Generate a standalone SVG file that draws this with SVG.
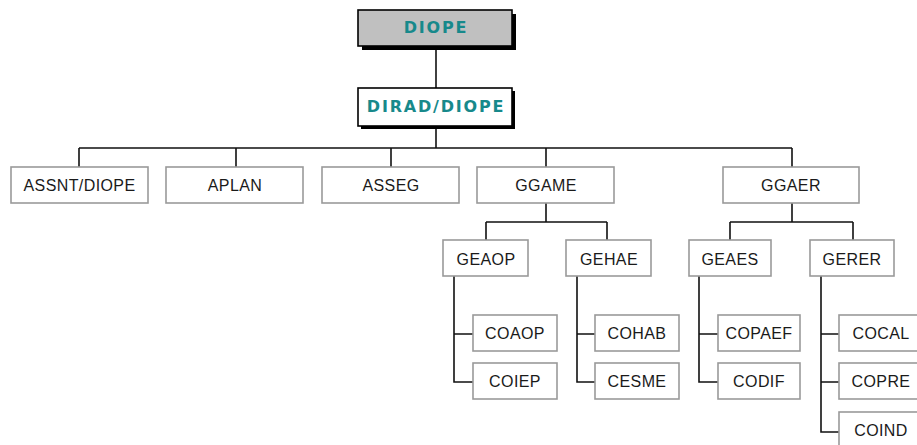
<svg xmlns="http://www.w3.org/2000/svg" width="917" height="445" viewBox="0 0 917 445">
<style>
.top{font-family:"DejaVu Sans",Verdana,sans-serif;font-weight:bold;font-size:16px;letter-spacing:1.8px;fill:#17898b;text-anchor:middle}
.lbl{font-family:"Liberation Sans",Arial,sans-serif;font-size:16px;letter-spacing:0.4px;fill:#1a1a1a;text-anchor:middle}
.box{fill:#fff;stroke:#9a9a9a;stroke-width:1.6}
.conn{fill:none;stroke:#111;stroke-width:1.6}
</style>
<rect width="917" height="445" fill="#fff"/>
<g id="connectors" class="conn">
<path d="M436 46V88"/>
<path d="M436 127V148M79 148H792M79 148V167M236 148V167M391 148V167M546 148V167M792 148V167"/>
<path d="M546 203V222M486 222H607M486 222V240M607 222V240"/>
<path d="M792 203V222M730 222H853M730 222V240M853 222V240"/>
<path d="M454 276V382H473M454 334H473"/>
<path d="M577 276V382H595M577 334H595"/>
<path d="M699 276V382H718M699 334H718"/>
<path d="M821 276V432H839M821 334H839M821 382H839"/>
</g>
<g id="n-diope">
<rect x="362" y="14" width="154" height="36" fill="#000"/>
<rect x="358" y="10" width="154" height="36" fill="#c0c0c0" stroke="#000" stroke-width="1.6"/>
<text class="top" x="436" y="33">DIOPE</text>
</g>
<g id="n-dirad">
<rect x="361" y="91" width="154" height="38" fill="#000"/>
<rect x="358" y="88" width="154" height="38" fill="#fff" stroke="#000" stroke-width="1.6"/>
<text class="top" x="436" y="112">DIRAD/DIOPE</text>
</g>
<g id="n-assnt"><rect class="box" x="11" y="167" width="137" height="36"/><text class="lbl" x="79.5" y="191">ASSNT/DIOPE</text></g>
<g id="n-aplan"><rect class="box" x="166" y="167" width="137" height="36"/><text class="lbl" x="235" y="191">APLAN</text></g>
<g id="n-asseg"><rect class="box" x="322" y="167" width="137" height="36"/><text class="lbl" x="391" y="191">ASSEG</text></g>
<g id="n-ggame"><rect class="box" x="477" y="167" width="137" height="36"/><text class="lbl" x="546" y="191">GGAME</text></g>
<g id="n-ggaer"><rect class="box" x="723" y="167" width="136" height="36"/><text class="lbl" x="791" y="191">GGAER</text></g>
<g id="n-geaop"><rect class="box" x="443" y="240" width="85" height="36"/><text class="lbl" x="486" y="265">GEAOP</text></g>
<g id="n-gehae"><rect class="box" x="566" y="240" width="85" height="36"/><text class="lbl" x="609" y="265">GEHAE</text></g>
<g id="n-geaes"><rect class="box" x="689" y="240" width="82" height="36"/><text class="lbl" x="730" y="265">GEAES</text></g>
<g id="n-gerer"><rect class="box" x="810" y="240" width="84" height="36"/><text class="lbl" x="852" y="265">GERER</text></g>
<g id="n-coaop"><rect class="box" x="473" y="315" width="84" height="36"/><text class="lbl" x="515" y="339">COAOP</text></g>
<g id="n-coiep"><rect class="box" x="473" y="363" width="84" height="36"/><text class="lbl" x="515" y="387">COIEP</text></g>
<g id="n-cohab"><rect class="box" x="595" y="315" width="84" height="36"/><text class="lbl" x="637" y="339">COHAB</text></g>
<g id="n-cesme"><rect class="box" x="595" y="363" width="84" height="36"/><text class="lbl" x="637" y="387">CESME</text></g>
<g id="n-copaef"><rect class="box" x="718" y="315" width="82" height="36"/><text class="lbl" x="759" y="339">COPAEF</text></g>
<g id="n-codif"><rect class="box" x="718" y="363" width="82" height="36"/><text class="lbl" x="759" y="387">CODIF</text></g>
<g id="n-cocal"><rect class="box" x="839" y="315" width="84" height="36"/><text class="lbl" x="881" y="339">COCAL</text></g>
<g id="n-copre"><rect class="box" x="839" y="363" width="84" height="36"/><text class="lbl" x="881" y="387">COPRE</text></g>
<g id="n-coind"><rect class="box" x="839" y="412" width="84" height="36"/><text class="lbl" x="881" y="436">COIND</text></g>
</svg>
